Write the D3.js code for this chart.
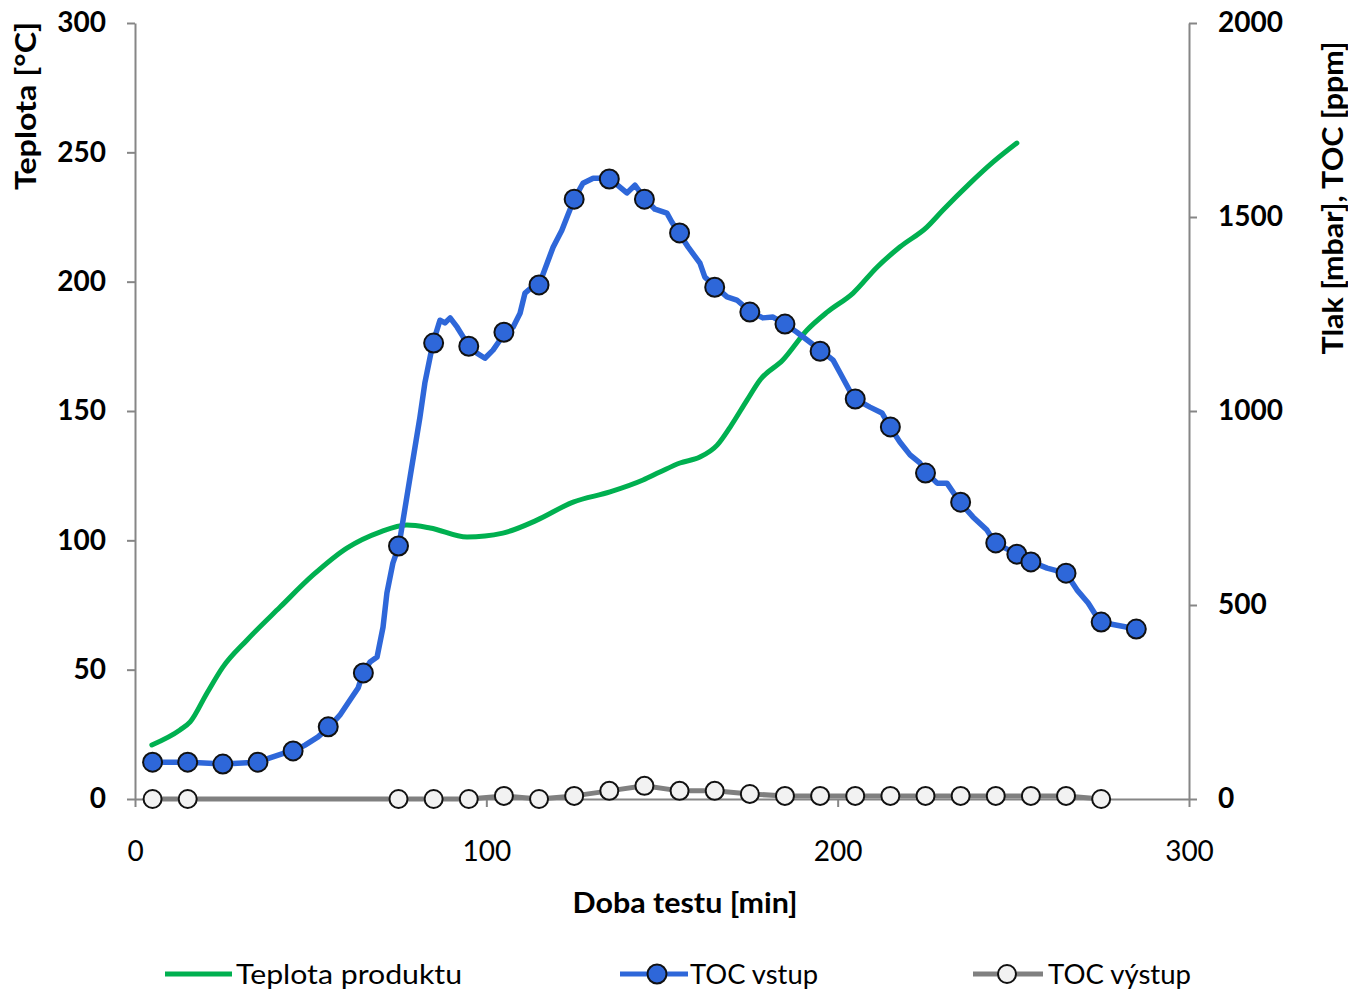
<!DOCTYPE html>
<html>
<head>
<meta charset="utf-8">
<script src="https://cdn.jsdelivr.net/npm/d3@7"></script>
<style>
  html, body { margin: 0; padding: 0; background: #fff; }
  svg { display: block; font-family: Lato, "Open Sans", sans-serif; }
</style>
</head>
<body>
<svg id="chart" width="1348" height="990"></svg>
<script>
// ---------- DATA ----------
const xTicks = [0, 100, 200, 300];
const leftTicks = [0, 50, 100, 150, 200, 250, 300];
const rightTicks = [0, 500, 1000, 1500, 2000];

// Teplota produktu [°C] (left axis)
const tempTime = [4.8, 12.8, 15.7, 20.5, 25, 31.9, 41.3, 50.7, 60.3, 69.7, 77.4, 84, 94.5, 104.7, 114.4, 124.7, 135.2, 144.6, 149.4, 155.1, 160.8, 165.7, 169.4, 174.2, 177.9, 184.4, 191.3, 197, 204.4, 211.2, 217.7, 225.4, 230, 237.7, 244.2, 251];
const tempValue = [20.9, 26.7, 29.8, 41.0, 51.0, 61.5, 74.2, 86.6, 97.0, 103.2, 105.9, 104.8, 101.3, 102.8, 107.8, 114.8, 118.7, 123.3, 126.4, 129.9, 132.2, 136.8, 143.8, 154.2, 162.0, 169.7, 181.3, 188.2, 195.6, 205.6, 213.4, 221.1, 227.7, 238.1, 246.2, 253.6];

// TOC vstup [ppm] (right axis) – measured line
const tocInTime = [5.1, 15.4, 25.3, 35, 38.4, 42.7, 45.3, 48.4, 52.1, 55.3, 58.3, 61.2, 63.5, 64.9, 66.9, 68.9, 70.6, 71.7, 73.4, 75.1, 78.3, 81.1, 82.5, 84.8, 86.8, 88.2, 89.7, 91.7, 93.4, 94.8, 97.3, 99.6, 101.9, 103.9, 105.3, 107.6, 109.6, 111, 113, 115, 117.3, 119, 121.5, 123.2, 125, 127.5, 130.4, 132.4, 135.2, 140, 142.3, 145.2, 148, 151.4, 152.8, 154.8, 157.4, 160.8, 162.2, 165.4, 168.5, 171.3, 175.3, 178.7, 181.6, 185, 188.4, 191.3, 195.5, 198.7, 200.7, 204.4, 205, 209.2, 212.6, 214.9, 217.7, 220.6, 223.4, 225.4, 228.3, 231.1, 234.8, 238.5, 242.5, 244.8, 251, 255.3, 259.6, 265, 268.1, 271.3, 274.7, 279.5, 285.2];
const tocInValue = [95, 95, 90, 95, 106, 119, 124, 139, 160, 186, 216, 255, 286, 325, 353, 366, 443, 531, 608, 652, 830, 984, 1072, 1175, 1234, 1227, 1240, 1216, 1191, 1167, 1149, 1136, 1157, 1183, 1203, 1216, 1252, 1304, 1319, 1325, 1381, 1422, 1466, 1505, 1546, 1587, 1600, 1600, 1598, 1562, 1582, 1546, 1520, 1510, 1487, 1459, 1423, 1381, 1345, 1319, 1294, 1286, 1255, 1240, 1242, 1224, 1203, 1183, 1154, 1131, 1098, 1036, 1031, 1010, 995, 959, 920, 887, 866, 840, 814, 814, 765, 727, 693, 660, 631, 611, 595, 582, 539, 505, 456, 448, 438];
// TOC vstup – marked samples
const tocInMarkTime = [5, 15, 25, 35, 45, 55, 65, 75, 85, 95, 105, 115, 125, 135, 145, 155, 165, 175, 185, 195, 205, 215, 225, 235, 245, 251, 255, 265, 275, 285];
const tocInMarkValue = [95, 95, 90, 95, 124, 186, 325, 652, 1175, 1167, 1203, 1325, 1546, 1598, 1546, 1459, 1319, 1255, 1224, 1154, 1031, 959, 840, 765, 660, 631, 611, 582, 456, 438];

// TOC výstup [ppm] (right axis)
const tocOutTime = [5, 15, 75, 85, 95, 105, 115, 125, 135, 145, 155, 165, 175, 185, 195, 205, 215, 225, 235, 245, 255, 265, 275];
const tocOutValue = [0, 0, 0, 0, 0, 8, 0, 8, 21, 34, 21, 21, 13, 8, 8, 8, 8, 8, 8, 8, 8, 8, 0];

// ---------- LAYOUT ----------
const svg = d3.select("#chart");
const plotL = 135, plotR = 1189, plotT = 23, plotB = 799;
const axisColor = "#868686";
const green = "#00b050", blue = "#2e67d9", grey = "#808080";

const x = d3.scaleLinear().domain([0, 300]).range([plotL, plotR]);
const yL = d3.scaleLinear().domain([0, 300]).range([plotB, plotT]);
const yR = d3.scaleLinear().domain([0, 2000]).range([plotB, plotT]);

svg.append("rect").attr("width", 1348).attr("height", 990).attr("fill", "#fff");

function styleAxis(g) {
  g.selectAll("path.domain").attr("stroke", axisColor).attr("stroke-width", 2);
  g.selectAll(".tick line").attr("stroke", axisColor).attr("stroke-width", 2);
  g.selectAll(".tick text").attr("fill", "#000").attr("font-family", "Lato, sans-serif");
}

const gx = svg.append("g").attr("transform", `translate(0,${plotB})`)
  .call(d3.axisBottom(x).tickValues(xTicks).tickFormat(d3.format("d")).tickSize(8).tickSizeOuter(0).tickPadding(34));
styleAxis(gx);
gx.selectAll(".tick text").attr("font-size", 28).attr("font-weight", 400);

const gl = svg.append("g").attr("transform", `translate(${plotL},0)`)
  .call(d3.axisLeft(yL).tickValues(leftTicks).tickFormat(d3.format("d")).tickSize(8).tickSizeOuter(0).tickPadding(21));
styleAxis(gl);
gl.selectAll(".tick text").attr("font-size", 28).attr("font-weight", 700);

const gr = svg.append("g").attr("transform", `translate(${plotR},0)`)
  .call(d3.axisRight(yR).tickValues(rightTicks).tickFormat(d3.format("d")).tickSize(8).tickSizeOuter(0).tickPadding(21));
styleAxis(gr);
gr.selectAll(".tick text").attr("font-size", 28).attr("font-weight", 700);

// Axis titles
svg.append("text").attr("x", 685).attr("y", 913).attr("text-anchor", "middle")
  .attr("font-size", 28).attr("font-weight", 700)
  .attr("textLength", 225).attr("lengthAdjust", "spacingAndGlyphs").text("Doba testu [min]");
svg.append("text").attr("transform", "translate(36,106) rotate(-90)").attr("text-anchor", "middle")
  .attr("font-size", 28).attr("font-weight", 700)
  .attr("textLength", 168).attr("lengthAdjust", "spacingAndGlyphs").text("Teplota [°C]");
svg.append("text").attr("transform", "translate(1343,198) rotate(-90)").attr("text-anchor", "middle")
  .attr("font-size", 28).attr("font-weight", 700)
  .attr("textLength", 313).attr("lengthAdjust", "spacingAndGlyphs").text("Tlak [mbar], TOC [ppm]");

// Lines
const tempData = tempTime.map((t, i) => [t, tempValue[i]]);
const tocInData = tocInTime.map((t, i) => [t, tocInValue[i]]);
const tocInMarks = tocInMarkTime.map((t, i) => [t, tocInMarkValue[i]]);
const tocOutData = tocOutTime.map((t, i) => [t, tocOutValue[i]]);

svg.append("path").datum(tocOutData)
  .attr("d", d3.line().x(d => x(d[0])).y(d => yR(d[1])))
  .attr("fill", "none").attr("stroke", grey).attr("stroke-width", 5).attr("stroke-linejoin", "round");

svg.append("path").datum(tempData)
  .attr("d", d3.line().curve(d3.curveMonotoneX).x(d => x(d[0])).y(d => yL(d[1])))
  .attr("fill", "none").attr("stroke", green).attr("stroke-width", 5).attr("stroke-linecap", "round");

svg.append("path").datum(tocInData)
  .attr("d", d3.line().x(d => x(d[0])).y(d => yR(d[1])))
  .attr("fill", "none").attr("stroke", blue).attr("stroke-width", 5.5).attr("stroke-linejoin", "round");

svg.append("g").selectAll("circle").data(tocOutData).join("circle")
  .attr("cx", d => x(d[0])).attr("cy", d => yR(d[1])).attr("r", 9)
  .attr("fill", "#f2f2f2").attr("stroke", "#111").attr("stroke-width", 2);

svg.append("g").selectAll("circle").data(tocInMarks).join("circle")
  .attr("cx", d => x(d[0])).attr("cy", d => yR(d[1])).attr("r", 9.5)
  .attr("fill", blue).attr("stroke", "#111").attr("stroke-width", 2);

// Legend
const ly = 974;
const legend = svg.append("g");
legend.append("line").attr("x1", 165).attr("x2", 232).attr("y1", ly).attr("y2", ly)
  .attr("stroke", green).attr("stroke-width", 5);
legend.append("text").attr("x", 236).attr("y", ly + 10).attr("font-size", 27)
  .attr("textLength", 226).attr("lengthAdjust", "spacingAndGlyphs").text("Teplota produktu");

legend.append("line").attr("x1", 620).attr("x2", 688).attr("y1", ly).attr("y2", ly)
  .attr("stroke", blue).attr("stroke-width", 5);
legend.append("circle").attr("cx", 657).attr("cy", ly).attr("r", 9.5)
  .attr("fill", blue).attr("stroke", "#111").attr("stroke-width", 2);
legend.append("text").attr("x", 690).attr("y", ly + 10).attr("font-size", 27)
  .attr("textLength", 128).attr("lengthAdjust", "spacingAndGlyphs").text("TOC vstup");

legend.append("line").attr("x1", 973).attr("x2", 1043).attr("y1", ly).attr("y2", ly)
  .attr("stroke", grey).attr("stroke-width", 5);
legend.append("circle").attr("cx", 1007).attr("cy", ly).attr("r", 9)
  .attr("fill", "#f2f2f2").attr("stroke", "#111").attr("stroke-width", 2);
legend.append("text").attr("x", 1048).attr("y", ly + 10).attr("font-size", 27)
  .attr("textLength", 143).attr("lengthAdjust", "spacingAndGlyphs").text("TOC výstup");
</script>
</body>
</html>
